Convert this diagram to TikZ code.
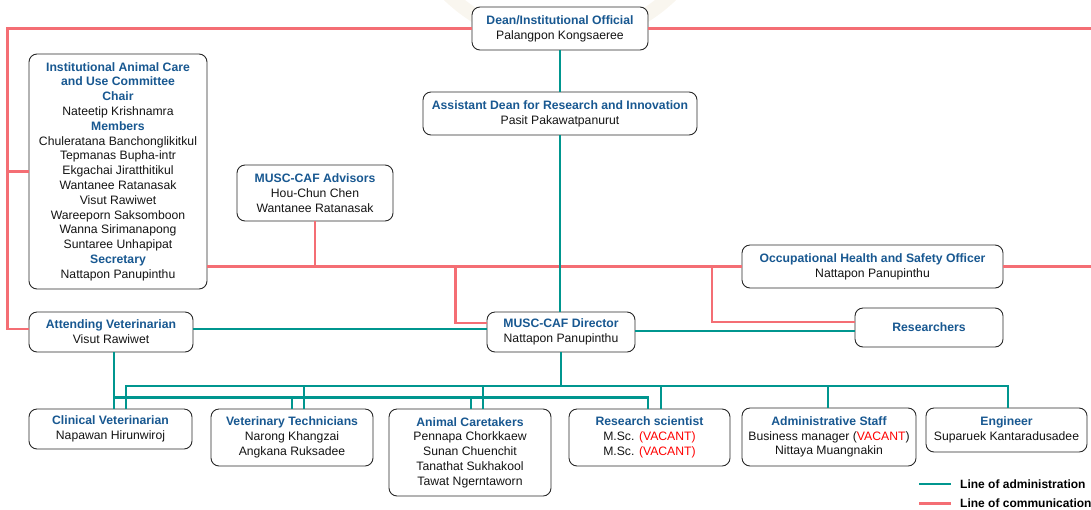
\documentclass[tikz,border=0pt]{standalone}
\usepackage{fontspec}
\setmainfont{Liberation Sans}
\definecolor{hblue}{RGB}{24,88,145}
\definecolor{admc}{RGB}{0,150,143}
\definecolor{comc}{RGB}{244,110,116}
\definecolor{vacc}{RGB}{255,0,0}
\definecolor{txtc}{RGB}{20,20,20}
\definecolor{boxc}{RGB}{40,40,40}
\definecolor{wmc}{RGB}{249,246,239}
\newcommand\headtxt[1]{{\color{hblue}\bfseries #1}}
\newcommand\vacanttxt{{\color{vacc}VACANT}}
\begin{document}
\begin{tikzpicture}[x=1pt,y=-1pt,
 orgbox/.style={draw=boxc, line width=0.9pt, rounded corners=8pt, fill=white, align=center, inner sep=0pt, text=txtc, font=\fontsize{12.2}{14.8}\selectfont},
 adm/.style={draw=admc, line width=2.6pt},
 com/.style={draw=comc, line width=2.6pt},
 legtxt/.style={anchor=west, inner sep=0pt, font=\bfseries\fontsize{12}{14}\selectfont, text=black}
]
\useasboundingbox (0,0) rectangle (1091,509);
% faint watermark
\draw[wmc, line width=14pt] (560,-120) circle[radius=160pt];

% boxes
\node[orgbox, minimum width=176pt, minimum height=43pt] (dean) at (560,28.5) {\headtxt{Dean/Institutional Official}\\Palangpon Kongsaeree};
\node[orgbox, minimum width=274pt, minimum height=43pt] (asst) at (560,113.5) {\headtxt{Assistant Dean for Research and Innovation}\\Pasit Pakawatpanurut};
\node[orgbox, minimum width=178pt, minimum height=235pt] (iacuc) at (118,171.5) {\headtxt{Institutional Animal Care}\\\headtxt{and Use Committee}\\\headtxt{Chair}\\Nateetip Krishnamra\\\headtxt{Members}\\Chuleratana Banchonglikitkul\\Tepmanas Bupha-intr\\Ekgachai Jiratthitikul\\Wantanee Ratanasak\\Visut Rawiwet\\Wareeporn Saksomboon\\Wanna Sirimanapong\\Suntaree Unhapipat\\\headtxt{Secretary}\\Nattapon Panupinthu};
\node[orgbox, minimum width=156pt, minimum height=56pt] (adv) at (315,193) {\headtxt{MUSC-CAF Advisors}\\Hou-Chun Chen\\Wantanee Ratanasak};
\node[orgbox, minimum width=261pt, minimum height=43pt] (ohs) at (872.5,266.5) {\headtxt{Occupational Health and Safety Officer}\\Nattapon Panupinthu};
\node[orgbox, minimum width=148pt, minimum height=39pt] (res) at (929,327.5) {\headtxt{Researchers}};
\node[orgbox, minimum width=164pt, minimum height=40pt] (att) at (111,332) {\headtxt{Attending Veterinarian}\\Visut Rawiwet};
\node[orgbox, minimum width=148pt, minimum height=40pt] (dir) at (561,332) {\headtxt{MUSC-CAF Director}\\Nattapon Panupinthu};
\node[orgbox, minimum width=163pt, minimum height=40pt] (cv) at (110.5,429) {\headtxt{Clinical Veterinarian}\\Napawan Hirunwiroj};
\node[orgbox, minimum width=162pt, minimum height=57pt] (vt) at (292,437.5) {\headtxt{Veterinary Technicians}\\Narong Khangzai\\Angkana Ruksadee};
\node[orgbox, minimum width=162pt, minimum height=87pt] (ac) at (470,452.5) {\headtxt{Animal Caretakers}\\Pennapa Chorkkaew\\Sunan Chuenchit\\Tanathat Sukhakool\\Tawat Ngerntaworn};
\node[orgbox, minimum width=161pt, minimum height=57pt] (rs) at (649.5,437.5) {\headtxt{Research scientist}\\M.Sc. {\color{vacc}(VACANT)}\\M.Sc. {\color{vacc}(VACANT)}};
\node[orgbox, minimum width=174pt, minimum height=58pt] (ad) at (829,437) {\headtxt{Administrative Staff}\\Business manager (\vacanttxt)\\Nittaya Muangnakin};
\node[orgbox, minimum width=161pt, minimum height=44pt] (eng) at (1006.5,430) {\headtxt{Engineer}\\Suparuek Kantaradusadee};

% helper coordinates
\coordinate (lx) at (7.5,0);
\coordinate (redge) at (1100,0);
\coordinate (rx1) at (455.5,0);
\coordinate (rx2) at (712,0);
\coordinate (attin) at ([yshift=3pt]att.west);
\coordinate (dirin) at ([yshift=9pt]dir.west);
\coordinate (resin) at ([yshift=5.5pt]res.west);
\coordinate (attout) at ([yshift=3pt]att.east);
\coordinate (dirout) at ([yshift=1pt]dir.east);

% lines of communication
\draw[com] (dean.west) -| (lx |- attin) -- (attin);
\draw[com] (lx |- iacuc.west) -- (iacuc.west);
\draw[com] (dean.east) -- (dean.east -| redge);
\draw[com] (iacuc.east |- ohs.west) -- (ohs.west);
\draw[com] (ohs.east) -- (ohs.east -| redge);
\draw[com] (adv.south) -- (adv.south |- ohs.west);
\draw[com] (rx1 |- ohs.west) |- (dirin);
\draw[com] (rx2 |- ohs.west) |- (resin);

% lines of administration
\draw[adm] (dean.south) -- (asst.north);
\draw[adm] (asst.south) -- (asst.south |- dir.north);
\draw[adm] (attout) -- (attout -| dir.west);
\draw[adm] (dirout) -- (dirout -| res.west);

\coordinate (busU) at (0,386);
\coordinate (busL) at (0,397.5);
\coordinate (u1) at ([xshift=15.5pt]cv.north);
\coordinate (u2) at ([xshift=12pt]vt.north);
\coordinate (u3) at ([xshift=13pt]ac.north);
\coordinate (u4) at ([xshift=11.5pt]rs.north);
\coordinate (u5) at ([xshift=-1pt]ad.north);
\coordinate (u6) at ([xshift=1.5pt]eng.north);
\draw[adm] (dir.south) -- (dir.south |- busU);
\draw[adm] (u1) |- (u6 |- busU) -- (u6);
\foreach \c in {u2,u3,u4,u5} \draw[adm] (\c) -- (\c |- busU);

\coordinate (l0) at ([xshift=3pt]att.south);
\coordinate (l2) at (vt.north);
\coordinate (l3) at ([xshift=1pt]ac.north);
\coordinate (l4) at ([xshift=-1.5pt]rs.north);
\draw[adm] (l0) -- (l0 |- cv.north);
\draw[adm] (l0 |- busL) -| (l4);
\draw[adm] (l2) -- (l2 |- busL);
\draw[adm] (l3) -- (l3 |- busL);

% legend
\coordinate (lg1a) at (919,484);
\coordinate (lg1b) at (951,484);
\coordinate (lg2a) at (919,503.5);
\coordinate (lg2b) at (951,503.5);
\draw[adm] (lg1a) -- (lg1b);
\draw[com] (lg2a) -- (lg2b);
\node[legtxt] (lgt1) at (960,484) {Line of administration};
\node[legtxt] (lgt2) at (960,503.5) {Line of communication};
\end{tikzpicture}
\end{document}
